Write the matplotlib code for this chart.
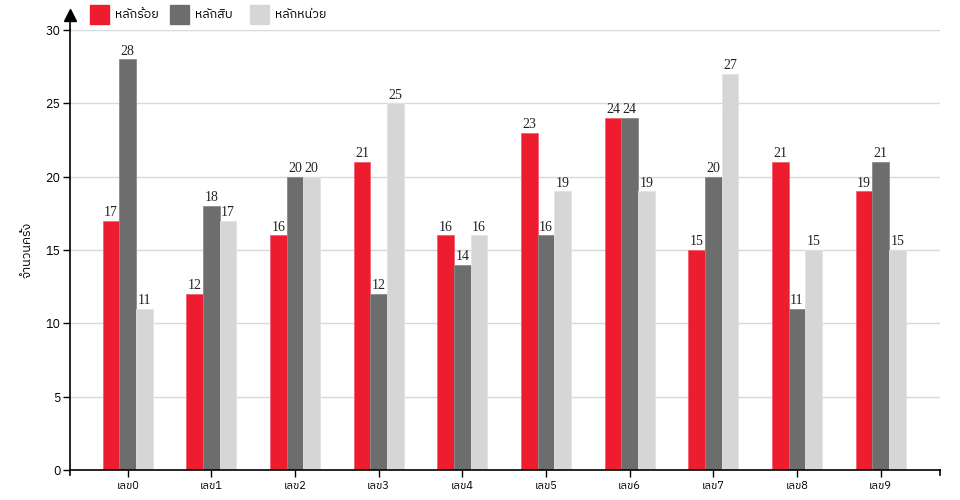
import matplotlib
matplotlib.use("Agg")
import matplotlib.pyplot as plt
import numpy as np
from matplotlib import font_manager
from matplotlib.ft2font import FT2Font
from matplotlib.patches import Rectangle

categories = ["เลข0", "เลข1", "เลข2", "เลข3", "เลข4", "เลข5", "เลข6", "เลข7", "เลข8", "เลข9"]
series_names = ["หลักร้อย", "หลักสิบ", "หลักหน่วย"]
hundreds = [17, 12, 16, 21, 16, 23, 24, 15, 21, 19]
tens = [28, 18, 20, 12, 14, 16, 24, 20, 11, 21]
units = [11, 17, 20, 25, 16, 19, 19, 27, 15, 15]
y_ticks = [0, 5, 10, 15, 20, 25, 30]
y_label = "จำนวนครั้ง"

colors = ["#ED1C2E", "#6D6D6D", "#D6D6D6"]
edges = ["#F06070", "#8A8A8A", "#E2E2E2"]

# find a font with Thai glyphs
thai_font = None
for f in sorted(font_manager.fontManager.ttflist, key=lambda x: x.name):
    try:
        cm = FT2Font(f.fname).get_charmap()
        if ord("ห") in cm and ord("0") in cm:
            thai_font = f.name
            if "Sans" in f.name and "Bold" not in f.fname:
                break
    except Exception:
        pass
fam = [thai_font, "DejaVu Sans"] if thai_font else ["DejaVu Sans"]
plt.rcParams["font.family"] = fam

fig = plt.figure(figsize=(9.6, 5.0), dpi=100)
ax = fig.add_axes([70 / 960, 30 / 500, 870 / 960, 440 / 500])

x = np.arange(len(categories))
bw = 0.2
data = [hundreds, tens, units]
for i, (vals, c, ec) in enumerate(zip(data, colors, edges)):
    xs = x + (i - 1) * bw
    ax.bar(xs, vals, width=bw, color=c, edgecolor=ec, linewidth=0.6, zorder=2)
    for xi, v in zip(xs, vals):
        ax.text(xi, v + 0.12, str(v), ha="center", va="bottom", fontsize=10,
                family="Liberation Serif", color="#222222", zorder=3)

ax.set_xlim(-0.69, 9.71)
ax.set_ylim(0, 30)
ax.set_yticks(y_ticks)
ax.set_xticks(x)
ax.set_xticklabels(categories, fontsize=8)
ax.tick_params(axis="y", labelsize=9, length=5, width=1, colors="black", pad=2)
ax.tick_params(axis="x", length=5, width=1, pad=3)
ax.grid(axis="y", color="#D9D9D9", linewidth=1, zorder=0)
ax.set_axisbelow(True)
for s in ["top", "right"]:
    ax.spines[s].set_visible(False)
ax.spines["left"].set_linewidth(1.2)
ax.spines["bottom"].set_linewidth(1.2)

# domain end ticks on x axis
for xa in [0, 1]:
    ax.plot([xa, xa], [0, -0.012], transform=ax.transAxes, color="black",
            linewidth=1.2, clip_on=False)
# y axis extension with arrow
ax.plot([0, 0], [1, 1.03], transform=ax.transAxes, color="black", linewidth=1.2, clip_on=False)
ax.plot([0], [1.035], marker="^", markersize=9, color="black", transform=ax.transAxes,
        clip_on=False)

fig.text(27 / 960, 250 / 500, y_label, rotation=90, ha="center", va="center", fontsize=9)

# legend
lx = [90, 170, 250]
for name, c, px in zip(series_names, colors, lx):
    fig.patches.append(Rectangle((px / 960, (500 - 24) / 500), 19 / 960, 19 / 500,
                                 transform=fig.transFigure, color=c))
    fig.text((px + 25) / 960, (500 - 14) / 500, name, ha="left", va="center", fontsize=9)

fig.savefig("out.png", dpi=100)
